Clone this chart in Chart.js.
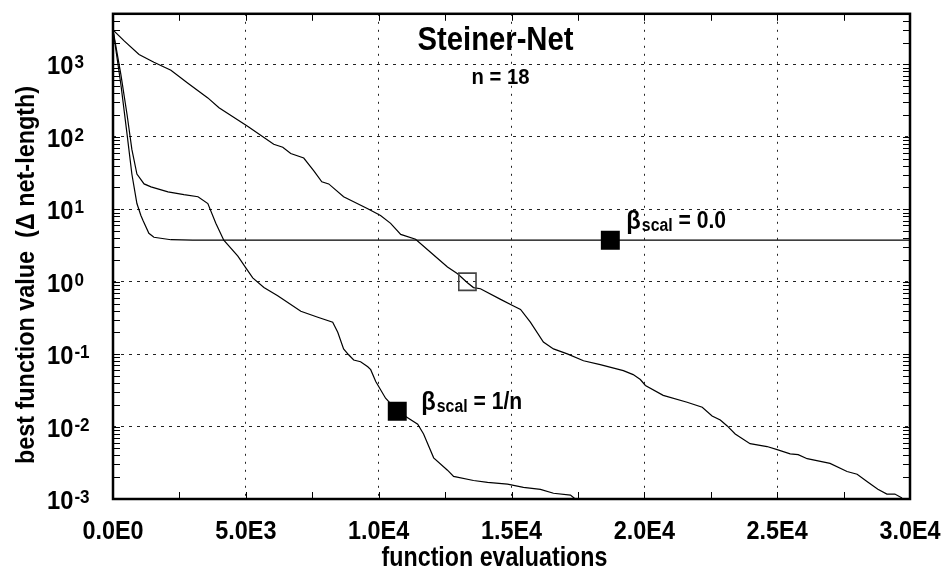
<!DOCTYPE html>
<html><head><meta charset="utf-8">
<script src="https://cdn.jsdelivr.net/npm/chart.js@4.4.1/dist/chart.umd.min.js"></script>
<style>html,body{margin:0;padding:0;background:#fff}#wrap{width:945px;height:573px;position:relative}</style>
</head><body><div id="wrap"><canvas id="c" width="945" height="573"></canvas></div>
<script>
// ---------- text ----------
const titleText = 'Steiner-Net';
const subtitleText = 'n = 18';
const xTitle = 'function evaluations';
const yTitle = 'best function value  (\u0394 net-length)';
// ---------- ticks ----------
const xTickValues = [0, 5000, 10000, 15000, 20000, 25000, 30000];
const xTickLabels = ['0.0E0', '5.0E3', '1.0E4', '1.5E4', '2.0E4', '2.5E4', '3.0E4'];
const yDecadeExponents = [-3, -2, -1, 0, 1, 2, 3];
// ---------- series: beta_scal = 0.0 (stalls) ----------
const evalsBeta0 = [0, 300, 530, 710, 900, 1050, 1130, 1350, 1540, 2180, 3000, 30000];
const valuesBeta0 = [3000, 519, 108, 30.7, 12, 8.2, 7.0, 4.66, 4.11, 3.8, 3.75, 3.74];
// ---------- series: beta_scal = 1/n ----------
const evalsBetaN = [0, 300, 530, 710, 900, 1170, 1430, 2070, 2670, 3200, 3570, 3870, 4170, 4700, 5000, 5260, 5680, 6200, 7070, 7710, 8270, 8460, 8680, 8870, 9060, 9320, 9590, 9700, 9890, 10260, 10710, 11470, 11690, 12070, 12590, 12820, 13570, 14100, 14850, 15450, 16090, 16580, 17220, 17400];
const valuesBetaN = [3000, 710, 202, 67, 30.7, 22.4, 20.4, 17.4, 15.9, 14.9, 12.0, 6.4, 3.74, 2.26, 1.55, 1.13, 0.83, 0.64, 0.39, 0.323, 0.276, 0.201, 0.118, 0.098, 0.083, 0.0785, 0.067, 0.061, 0.042, 0.0246, 0.0163, 0.0108, 0.0079, 0.0037, 0.0025, 0.00205, 0.0018, 0.0017, 0.0016, 0.00145, 0.00136, 0.0012, 0.00113, 0.001];
// ---------- series: upper curve (open square) ----------
const evalsUpper = [0, 410, 980, 1540, 2180, 2820, 3570, 3990, 5080, 6050, 6390, 6690, 7180, 7560, 7860, 8120, 8680, 9590, 10070, 10450, 10830, 11390, 12070, 12590, 12970, 13340, 13570, 13830, 14590, 15040, 15340, 15710, 16200, 16580, 17100, 17710, 18340, 19210, 19580, 19850, 20040, 20710, 21610, 22180, 22550, 22860, 23120, 23420, 23980, 24620, 25000, 25490, 25790, 26130, 26990, 27630, 28010, 28420, 28790, 29130, 29430, 29700];
const valuesUpper = [3000, 2130, 1370, 1070, 830, 550, 345, 252, 139, 79, 72, 59, 51, 34, 24, 22.4, 14.9, 10.2, 8.2, 6.4, 4.5, 3.86, 2.34, 1.60, 1.29, 0.97, 0.83, 0.80, 0.57, 0.47, 0.415, 0.276, 0.147, 0.118, 0.101, 0.081, 0.0715, 0.0592, 0.0522, 0.0446, 0.037, 0.027, 0.0217, 0.0185, 0.014, 0.0123, 0.0102, 0.0079, 0.0058, 0.0053, 0.0048, 0.0042, 0.0041, 0.0036, 0.0031, 0.0024, 0.0022, 0.0017, 0.00136, 0.00117, 0.00117, 0.00103];
// ---------- markers ----------
const filledMarkerEvals = [18720, 10700];
const filledMarkerValues = [3.74, 0.0163];
const filledMarkerLabelTails = [' = 0.0', ' = 1/n'];
const openMarkerEvals = [13340];
const openMarkerValues = [1.0];
const labelGreek = '\u03B2';
const labelSub = 'scal';

const pts = (xs, ys) => xs.map((x, i) => ({ x: x, y: ys[i] }));
const FONT = '"Liberation Sans", Arial, Helvetica, sans-serif';

function drawText(ctx, s, x, y, size, sx, align, weight) {
  ctx.save();
  ctx.font = (weight || 'bold') + ' ' + size + 'px ' + FONT;
  ctx.translate(x, y);
  ctx.scale(sx, 1);
  ctx.textAlign = align || 'left';
  ctx.textBaseline = 'alphabetic';
  ctx.fillStyle = '#000';
  ctx.fillText(s, 0, 0);
  const w = ctx.measureText(s).width * sx;
  ctx.restore();
  return w;
}

const decor = {
  id: 'decor',
  afterDraw(chart) {
    const ctx = chart.ctx, a = chart.chartArea, xs = chart.scales.x, ys = chart.scales.y;
    ctx.save();
    ctx.strokeStyle = '#000';
    ctx.lineWidth = 1;
    const seg = (x1, y1, x2, y2) => { ctx.beginPath(); ctx.moveTo(x1, y1); ctx.lineTo(x2, y2); ctx.stroke(); };
    // x minor ticks (inside, top and bottom)
    for (let v = 0; v <= 30000; v += 2500) {
      const px = Math.round(xs.getPixelForValue(v)) + 0.5;
      seg(px, a.bottom, px, a.bottom - 7);
      seg(px, a.top, px, a.top + 7);
    }
    // y minor ticks (inside, left and right)
    for (const e of yDecadeExponents) {
      for (let m = 1; m <= 9; m++) {
        const v = m * Math.pow(10, e);
        if (v > ys.max) break;
        const py = Math.round(ys.getPixelForValue(v)) + 0.5;
        seg(a.left, py, a.left + 7, py);
        seg(a.right, py, a.right - 7, py);
      }
    }
    // frame
    ctx.lineWidth = 2.5;
    ctx.strokeRect(a.left, a.top, a.right - a.left, a.bottom - a.top);
    ctx.restore();

    // x tick labels
    xTickValues.forEach((v, i) => {
      drawText(ctx, xTickLabels[i], xs.getPixelForValue(v), a.bottom + 40, 26, 0.9, 'center');
    });
    // y tick labels 10^e
    yDecadeExponents.forEach(e => {
      const py = ys.getPixelForValue(Math.pow(10, e));
      const w = drawText(ctx, '10', 47, py + 10, 25, 0.95, 'left');
      drawText(ctx, String(e), 47 + w + 1, py + 4, 18, 0.95, 'left');
    });
    // title
    const cx = (a.left + a.right) / 2;
    drawText(ctx, titleText, cx - 16, a.top + 36, 34, 0.86, 'center');
    drawText(ctx, subtitleText, cx - 11, a.top + 70, 22, 0.92, 'center');
    // axis titles
    drawText(ctx, xTitle, cx - 17, 566, 27, 0.86, 'center');
    ctx.save();
    ctx.translate(34, 275);
    ctx.rotate(-Math.PI / 2);
    drawText(ctx, yTitle, 0, 0, 26, 0.9, 'center');
    ctx.restore();
    // marker labels
    const offs = [[16, -12], [24, -2]];
    filledMarkerEvals.forEach((v, i) => {
      const mx = xs.getPixelForValue(v), my = ys.getPixelForValue(filledMarkerValues[i]);
      let x = mx + offs[i][0];
      const base = my + offs[i][1];
      x += drawText(ctx, labelGreek, x, base + 1, 25, 0.95, 'left') + 1;
      x += drawText(ctx, labelSub, x, base + 3, 18, 0.88, 'left');
      drawText(ctx, filledMarkerLabelTails[i], x, base, 24, 0.88, 'left');
    });
  }
};

new Chart(document.getElementById('c'), {
  type: 'scatter',
  data: {
    datasets: [
      { data: pts(filledMarkerEvals, filledMarkerValues), pointStyle: 'rect', pointRadius: 13.4, backgroundColor: '#000', borderWidth: 0, showLine: false, order: 0 },
      { data: pts(openMarkerEvals, openMarkerValues), pointStyle: 'rect', pointRadius: 12.2, backgroundColor: 'rgba(0,0,0,0)', borderColor: '#444', borderWidth: 1.6, showLine: false, order: 0 },
      { data: pts(evalsBeta0, valuesBeta0), showLine: true, borderColor: '#000', borderWidth: 1.2, pointRadius: 0, tension: 0, order: 1 },
      { data: pts(evalsBetaN, valuesBetaN), showLine: true, borderColor: '#000', borderWidth: 1.2, pointRadius: 0, tension: 0, order: 1 },
      { data: pts(evalsUpper, valuesUpper), showLine: true, borderColor: '#000', borderWidth: 1.2, pointRadius: 0, tension: 0, order: 1 }
    ]
  },
  options: {
    responsive: false,
    devicePixelRatio: 1,
    animation: false,
    events: [],
    layout: { padding: { left: 0, right: 35, top: 7, bottom: 0 } },
    plugins: { legend: { display: false }, tooltip: { enabled: false } },
    scales: {
      x: {
        type: 'linear', min: 0, max: 30000,
        afterBuildTicks: s => { s.ticks = xTickValues.map(v => ({ value: v })); },
        afterFit: s => { s.height = 74; },
        ticks: { display: false },
        grid: { color: '#222', lineWidth: 1, drawTicks: false },
        border: { display: false, dash: [2, 6] }
      },
      y: {
        type: 'logarithmic', min: 0.001, max: 5000,
        afterBuildTicks: s => { s.ticks = yDecadeExponents.map(e => ({ value: Math.pow(10, e) })); },
        afterFit: s => { s.width = 113; },
        ticks: { display: false },
        grid: { color: '#222', lineWidth: 1, drawTicks: false },
        border: { display: false, dash: [3, 5] }
      }
    }
  },
  plugins: [decor]
});
</script>
</body></html>
